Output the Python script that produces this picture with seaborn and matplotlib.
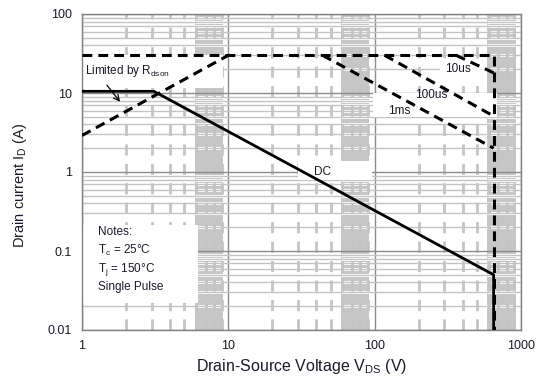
import numpy as np
import pandas as pd
import matplotlib
matplotlib.use("Agg")
import matplotlib.pyplot as plt
from matplotlib.patches import Rectangle
from matplotlib.ticker import FixedLocator, NullFormatter
import seaborn as sns

# ---- data ----
dc_v = [1, 3.1, 650, 650]
dc_i = [10.5, 10.5, 0.05, 0.01]
rds_v = [1, 10]
rds_i = [2.9, 30]
lim_v = [1, 650, 650]
lim_i = [30, 30, 0.01]
us10_v = [360, 650]
us10_i = [30, 18]
us100_v = [117, 650]
us100_i = [30, 5.1]
ms1_v = [44, 650]
ms1_i = [30, 2.0]

x_ticks = [1, 10, 100, 1000]
x_labels = ["1", "10", "100", "1000"]
y_ticks = [0.01, 0.1, 1, 10, 100]
y_labels = ["0.01", "0.1", "1", "10", "100"]

sns.set_style("white")
plt.rcParams["font.family"] = ["Liberation Sans", "DejaVu Sans"]
plt.rcParams["mathtext.fontset"] = "custom"
plt.rcParams["mathtext.rm"] = "Liberation Sans"
plt.rcParams["mathtext.it"] = "Liberation Sans"

fig = plt.figure(figsize=(5.38, 3.87), dpi=100)
ax = fig.add_axes([82/538, 1-330/387, (521-82)/538, (330-14)/387])
ax.set_xscale("log")
ax.set_yscale("log")
ax.set_xlim(1, 1000)
ax.set_ylim(0.01, 100)

# grid decoration
ax.set_axisbelow(True)
minor_y = [m * 10.0**e for e in range(-2, 2) for m in range(2, 10)]
for d in [1, 10, 100]:
    ax.axvspan(5.9*d, 9.2*d, color="#c6c6c6", lw=0, zorder=0.1)
    ax.hlines(minor_y, 5.9*d, 9.2*d, color="white", lw=2.2, zorder=0.3)
ax.xaxis.set_minor_locator(FixedLocator([m * 10.0**e for e in range(0, 3) for m in range(2, 10)]))
ax.yaxis.set_minor_locator(FixedLocator(minor_y))
ax.xaxis.set_minor_formatter(NullFormatter())
ax.yaxis.set_minor_formatter(NullFormatter())
ax.grid(which="minor", axis="x", color="#c4c4c4", lw=2, linestyle=(0, (4, 3)))
ax.grid(which="minor", axis="y", color="#c4c4c4", lw=1)
ax.grid(which="major", color="#8c8c8c", lw=1)

# white label boxes
def wbox(x0, y0, x1, y1):
    ax.add_patch(Rectangle((x0, y0), x1-x0, y1-y0, transform=ax.transAxes,
                           facecolor="white", edgecolor="none", zorder=1))
def fx(px): return (px-82)/439
def fy(py): return 1-(py-14)/316
wbox(fx(83), fy(88), fx(223), fy(55))
wbox(fx(83), fy(303), fx(198), fy(225))
wbox(fx(373), fy(117), fx(497), fy(93))
wbox(fx(298), fy(180), fx(372), fy(161))
wbox(fx(440), fy(78), fx(487), fy(60))

dash = (0, (3.2, 2.0))
for v, i, ls in [(lim_v, lim_i, dash), (rds_v, rds_i, dash), (us10_v, us10_i, dash),
                 (us100_v, us100_i, dash), (ms1_v, ms1_i, dash), (dc_v, dc_i, "-")]:
    df = pd.DataFrame({"v": v, "i": i})
    sns.lineplot(data=df, x="v", y="i", sort=False, estimator=None, ax=ax,
                 color="black", lw=2.2 if ls != "-" else 2.0, linestyle=ls, zorder=3)

tc = "#1a1a2a"
fs = 8.5
ax.text(1.05, 19, "Limited by R$_{\\mathrm{dson}}$", fontsize=fs, color=tc, ha="left", va="center", zorder=4)
ax.annotate("", xy=(1.87, 7.26), xytext=(1.44, 13.4),
            arrowprops=dict(arrowstyle="->", color="black", lw=0.9), zorder=4)
ax.text(368, 20.1, "10us", fontsize=fs, color=tc, ha="center", va="center", zorder=4)
ax.text(245, 9.4, "100us", fontsize=fs, color=tc, ha="center", va="center", zorder=4)
ax.text(148, 5.9, "1ms", fontsize=fs, color=tc, ha="center", va="center", zorder=4)
ax.text(44, 1.0, "DC", fontsize=fs, color=tc, ha="center", va="center", zorder=4)

nx = fx(98)
ax.text(nx, fy(232), "Notes:", transform=ax.transAxes, fontsize=fs, color=tc, va="center", zorder=4)
ax.text(nx, fy(250), "T$_{\\mathrm{c}}$ = 25°C", transform=ax.transAxes, fontsize=fs, color=tc, va="center", zorder=4)
ax.text(nx, fy(269), "T$_{\\mathrm{j}}$ = 150°C", transform=ax.transAxes, fontsize=fs, color=tc, va="center", zorder=4)
ax.text(nx, fy(287), "Single Pulse", transform=ax.transAxes, fontsize=fs, color=tc, va="center", zorder=4)

ax.set_xticks(x_ticks)
ax.set_xticklabels(x_labels)
ax.set_yticks(y_ticks)
ax.set_yticklabels(y_labels)
ax.tick_params(which="major", direction="out", length=4, color="#808080", labelsize=9, labelcolor="#1a1a2a", pad=3)
ax.tick_params(which="minor", length=0)
for s in ax.spines.values():
    s.set_color("#808080")
    s.set_linewidth(1)

ax.set_xlabel("Drain-Source Voltage V$_{\\mathrm{DS}}$ (V)", fontsize=11.5, color=tc, labelpad=4)
ax.set_ylabel("Drain current I$_{\\mathrm{D}}$ (A)", fontsize=10.5, color=tc)
ax.yaxis.set_label_coords(fx(29), fy(185))

fig.savefig("out.png", dpi=100)
